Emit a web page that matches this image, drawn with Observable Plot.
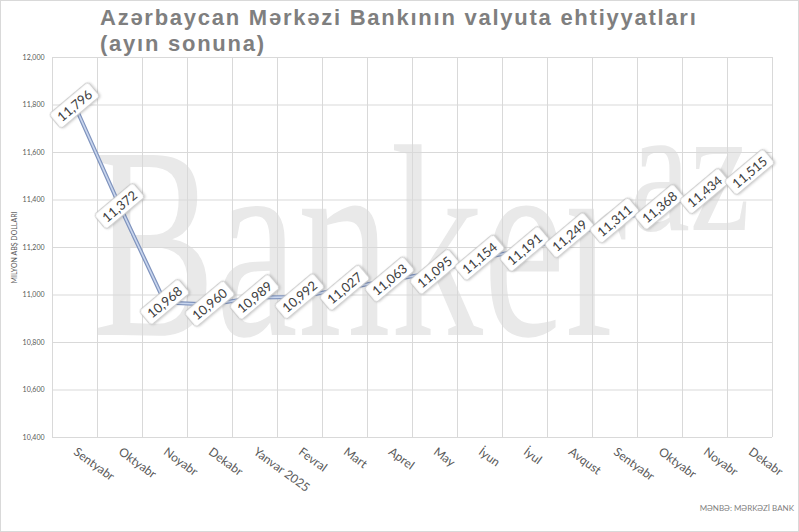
<!DOCTYPE html>
<html>
<head>
<meta charset="utf-8">
<script src="https://cdn.jsdelivr.net/npm/d3@7"></script>
<script src="https://cdn.jsdelivr.net/npm/@observablehq/plot@0.6"></script>
<style>
  html, body { margin: 0; padding: 0; background: #fff; }
  #wrap { position: relative; width: 799px; height: 532px; overflow: hidden; background: #fff; }
  #frame { position: absolute; left: 0; top: 0; right: 0; bottom: 0; border: 1px solid #d9d9d9; pointer-events: none; box-sizing: border-box; }
  #title { position: absolute; left: 100px; top: 5px; font-family: "Liberation Sans", Arial, sans-serif; font-weight: bold; font-size: 22px; line-height: 26px; letter-spacing: 1.75px; color: #7f7f7f; white-space: nowrap; }
  #source { position: absolute; right: 5px; top: 503px; font-family: Lato, "Open Sans", sans-serif; font-size: 8px; color: #7f7f7f; }
  #chart { position: absolute; left: 0; top: 0; }
</style>
</head>
<body>
<div id="wrap">
  <div id="chart"></div>
  <div id="title">Azərbaycan Mərkəzi Bankının valyuta ehtiyyatları<br>(ayın sonuna)</div>
  <div id="source">MƏNBƏ: MƏRKƏZİ BANK</div>
  <div id="frame"></div>
</div>
<script>
const months = ["Sentyabr","Oktyabr","Noyabr","Dekabr","Yanvar 2025","Fevral","Mart","Aprel","May","İyun","İyul","Avqust","Sentyabr","Oktyabr","Noyabr","Dekabr"];
const values = [11796,11372,10968,10960,10989,10992,11027,11063,11095,11154,11191,11249,11311,11368,11434,11515];
const yTicks = [10400,10600,10800,11000,11200,11400,11600,11800,12000];
const yLabel = "MILYON ABŞ DOLLARI";

const data = values.map((v, i) => ({i, v, m: months[i]}));
const fmt = d3.format(",");
const edges = d3.range(months.length + 1).map(k => k - 0.5);

const plot = Plot.plot({
  width: 799,
  height: 532,
  marginLeft: 52,
  marginRight: 27,
  marginTop: 57,
  marginBottom: 95,
  style: {background: "transparent", fontFamily: "Lato, 'Open Sans', sans-serif", color: "#595959"},
  x: {type: "linear", domain: [-0.5, months.length - 0.5]},
  y: {domain: [10400, 12000]},
  marks: [
    Plot.gridY(yTicks, {stroke: "#d9d9d9", strokeOpacity: 1}),
    Plot.ruleX(edges, {stroke: "#d9d9d9", strokeOpacity: 1, y1: 10400, y2: 12000}),
    Plot.axisY(yTicks, {tickSize: 0, tickPadding: 8, fontSize: 7, tickFormat: fmt, label: yLabel, labelAnchor: "center", labelArrow: "none", labelOffset: 40, fill: "#595959"}),
    Plot.axisX(d3.range(months.length), {tickSize: 0, tickPadding: 13, tickRotate: 36, fontSize: 12, tickFormat: i => months[i], label: null, fill: "#595959"}),
    Plot.line(data, {x: "i", y: "v", stroke: "#7f93bd", strokeWidth: 4}),
    Plot.line(data, {x: "i", y: "v", stroke: "#c9d6ee", strokeWidth: 1.6}),
    Plot.text(data, {x: "i", y: "v", text: d => fmt(d.v), rotate: -40, fontSize: 13, fill: "#404040", className: "vlabel"})
  ]
});
document.getElementById("chart").appendChild(plot);

// watermark
const svg = d3.select(plot);
const wm = svg.insert("g", ":first-child").attr("fill", "#e9e9e9").attr("text-anchor", "start")
  .attr("font-family", "'Liberation Serif', serif");
wm.append("text").attr("x", 92).attr("y", 335).attr("font-size", 275)
  .attr("textLength", 535).attr("lengthAdjust", "spacingAndGlyphs").text("Banker");
wm.append("text").attr("x", 630).attr("y", 230).attr("font-size", 180)
  .attr("textLength", 120).attr("lengthAdjust", "spacingAndGlyphs").text("az");

// label boxes
plot.querySelectorAll("g.vlabel text").forEach(t => {
  const b = t.getBBox();
  const r = document.createElementNS("http://www.w3.org/2000/svg", "rect");
  r.setAttribute("x", b.x - 5);
  r.setAttribute("y", b.y - 1.5);
  r.setAttribute("width", b.width + 10);
  r.setAttribute("height", b.height + 3);
  r.setAttribute("rx", 3);
  r.setAttribute("fill", "#fff");
  r.setAttribute("stroke", "#bfbfbf");
  r.setAttribute("stroke-width", 0.8);
  r.style.filter = "drop-shadow(1px 1px 1px rgba(0,0,0,0.18))";
  if (t.getAttribute("transform")) r.setAttribute("transform", t.getAttribute("transform"));
  t.parentNode.insertBefore(r, t);
});
</script>
</body>
</html>
